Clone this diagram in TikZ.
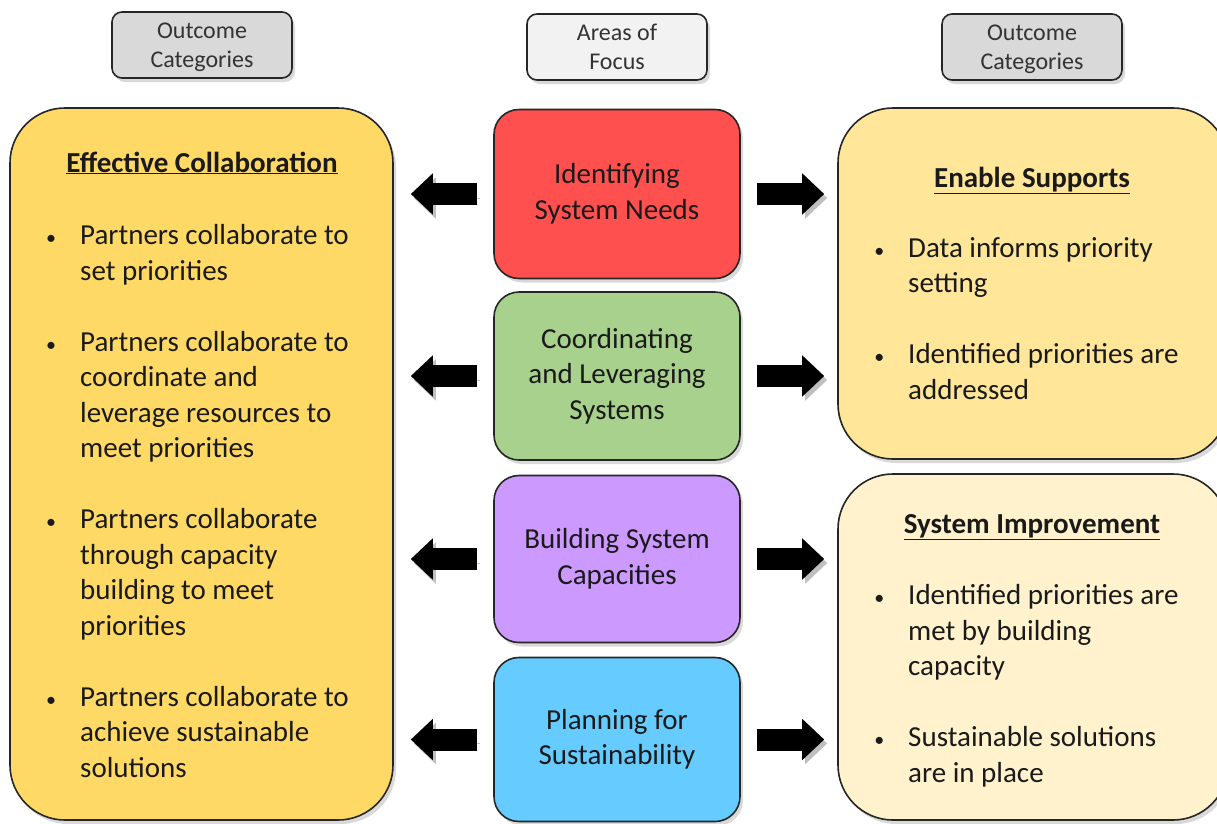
\documentclass[tikz,border=0pt]{standalone}
\usepackage{fontspec}
\setmainfont{Carlito}
\usetikzlibrary{positioning,arrows.meta,shadows}

\definecolor{hdrgray}{HTML}{D9D9D9}
\definecolor{hdrlight}{HTML}{F2F2F2}
\definecolor{collab}{HTML}{FFD966}
\definecolor{enable}{HTML}{FFE699}
\definecolor{improve}{HTML}{FFF2CC}
\definecolor{needred}{HTML}{FF5050}
\definecolor{coordgreen}{HTML}{A9D18E}
\definecolor{buildpurple}{HTML}{CC99FF}
\definecolor{planblue}{HTML}{66CCFF}
\definecolor{ink}{HTML}{1A1A1A}

\newcommand{\bul}{\llap{{\fontsize{20}{20}\selectfont\textbullet}\hspace{24pt}}}

\tikzset{
  box/.style={draw=black!85, line width=1.6pt, inner sep=0pt, text=ink,
    drop shadow={shadow xshift=3pt, shadow yshift=-4pt, opacity=0.3}},
  hdr/.style={box, rounded corners=10pt, minimum width=180pt, minimum height=66pt,
    align=center, text depth=0pt, font=\fontsize{24}{29}\selectfont, text=black!80},
  area/.style={box, rounded corners=25pt, minimum width=246pt, align=center,
    font=\fontsize{29}{35.5}\selectfont},
  outcome/.style={box, rounded corners=55pt},
  headtxt/.style={anchor=base, inner sep=0pt, text=ink,
    font=\fontsize{29}{35.5}\selectfont\bfseries},
  bulltxt/.style={anchor=base west, inner sep=0pt, align=left, text=ink,
    font=\fontsize{29}{35.5}\selectfont},
  blockarrow/.style={line width=22pt, -{Triangle[length=22pt,width=40pt]},
    preaction={draw=black!25, transform canvas={xshift=3pt,yshift=-4pt}}}
}

\begin{document}
\begin{tikzpicture}[x=1pt,y=-1pt]
\useasboundingbox (0,0) rectangle (1217,823);

% column headers
\node[hdr, fill=hdrgray] (lhdr) at (202,45) {Outcome\\Categories};
\node[hdr, fill=hdrlight] (chdr) at (617,47) {Areas of\\Focus};
\node[hdr, fill=hdrgray] (rhdr) at (1032,47) {Outcome\\Categories};

% outcome boxes
\node[outcome, fill=collab, minimum width=383pt, minimum height=712pt] (lbox) at (201.5,464) {};
\node[outcome, fill=enable, minimum width=390pt, minimum height=351pt] (rtop) at (1033,283.5) {};
\node[outcome, fill=improve, minimum width=390pt, minimum height=346pt] (rbot) at (1033,647) {};

% areas of focus
\node[area, fill=needred, minimum height=169pt] (need) at (617,194) {Identifying\\System Needs};
\node[area, fill=coordgreen, minimum height=168pt] (coord) at (617,376) {Coordinating\\and Leveraging\\Systems};
\node[area, fill=buildpurple, minimum height=167pt] (build) at (617,559) {Building System\\Capacities};
\node[area, fill=planblue, minimum height=164pt] (plan) at (617,739.5) {Planning for\\Sustainability};

% arrows
\foreach \n in {need,coord,build,plan} {
  \draw[blockarrow, shorten <=16pt, shorten >=17pt] (\n.west) -- (\n.west -| lbox.east);
  \draw[blockarrow, shorten <=16pt, shorten >=13pt] (\n.east) -- (\n.east -| rtop.west);
}

% left texts
\node[headtxt] (lhead) at (202,172) {\underline{Effective Collaboration}};
\node[bulltxt] (lbul) at (80,777) {\bul Partners collaborate to\\ set priorities\\[35.5pt]
  \bul Partners collaborate to\\ coordinate and\\ leverage resources to\\ meet priorities\\[35.5pt]
  \bul Partners collaborate\\ through capacity\\ building to meet\\ priorities\\[35.5pt]
  \bul Partners collaborate to\\ achieve sustainable\\ solutions};

% right texts
\node[headtxt] (thead) at (1032,187) {\underline{Enable Supports}};
\node[bulltxt] (tbul) at (908,399) {\bul Data informs priority\\ setting\\[35.5pt]
  \bul Identified priorities are\\ addressed};
\node[headtxt] (bhead) at (1032,533) {\underline{System Improvement}};
\node[bulltxt] (bbul) at (908,782) {\bul Identified priorities are\\ met by building\\ capacity\\[35.5pt]
  \bul Sustainable solutions\\ are in place};
\end{tikzpicture}
\end{document}
